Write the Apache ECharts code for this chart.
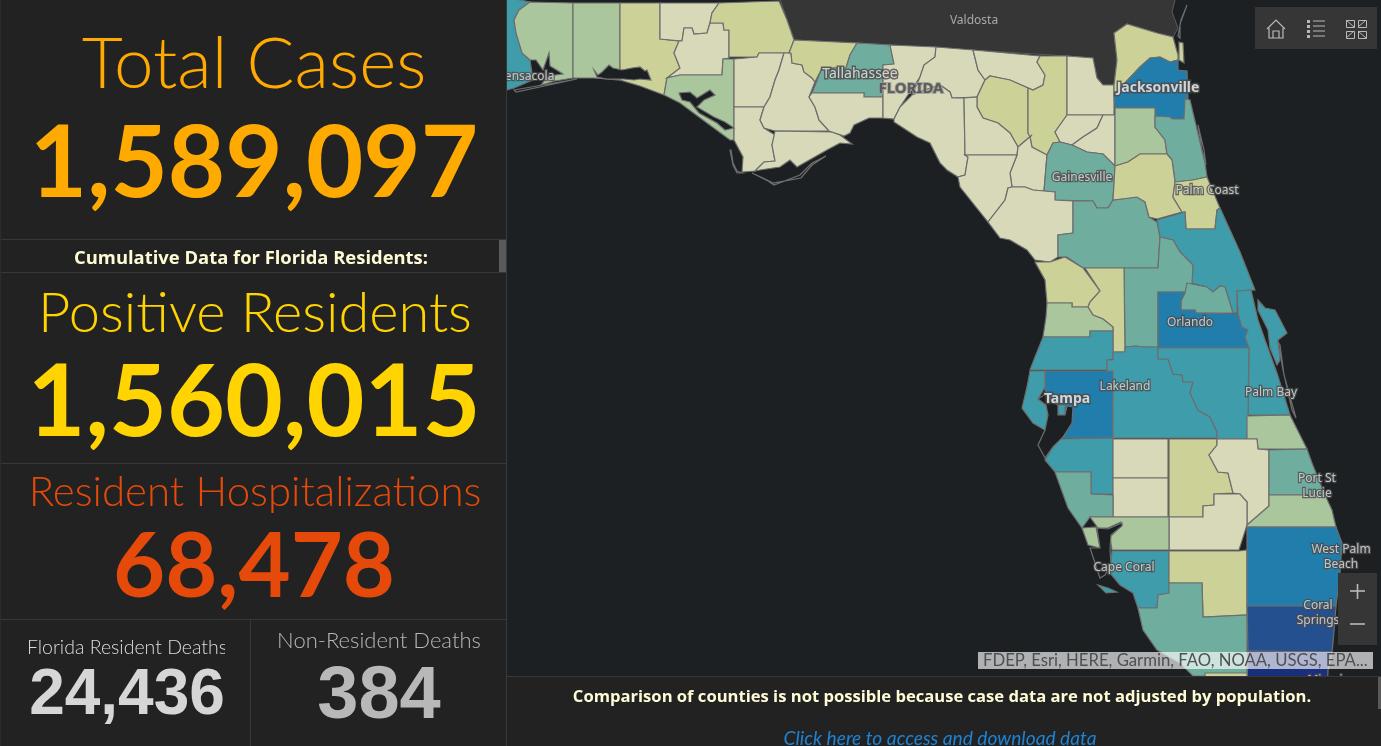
<!DOCTYPE html>
<html><head><meta charset="utf-8">
<style>html,body{margin:0;padding:0;background:#1c2023;overflow:hidden}#c{width:1381px;height:746px}</style>
<script src="https://cdn.jsdelivr.net/npm/echarts@6/dist/echarts.min.js"></script>
</head><body><div id="c"></div>
<script>
// ---------- headline numbers ----------
const kpiTotalLabel = 'Total Cases';
const kpiTotalValue = '1,589,097';
const kpiResidentsLabel = 'Positive Residents';
const kpiResidentsValue = '1,560,015';
const kpiHospLabel = 'Resident Hospitalizations';
const kpiHospValue = '68,478';
const kpiDeathsLabel = 'Florida Resident Deaths';
const kpiDeathsValue = '24,436';
const kpiNonResLabel = 'Non-Resident Deaths';
const kpiNonResValue = '384';
const cumulativeText = 'Cumulative Data for Florida Residents:';
const noteText = 'Comparison of counties is not possible because case data are not adjusted by population.';
const linkText = 'Click here to access and download data';
const attributionText = 'FDEP, Esri, HERE, Garmin, FAO, NOAA, USGS, EPA...';

// ---------- county case counts (estimated from the colour classes) ----------
const countyNames = ['Escambia','Santa Rosa','Okaloosa','Walton','Holmes','Washington','Jackson','Bay','Calhoun','Gulf','Liberty','Franklin','Gadsden','Leon','Wakulla','Jefferson','Madison','Taylor','Hamilton','Suwannee','Lafayette','Columbia','Baker','Union','Bradford','Gilchrist','Alachua','Dixie','Levy','Marion','Nassau','Duval','Clay','St. Johns','Putnam','Flagler','Volusia','Lake','Seminole','Orange','Brevard','Citrus','Sumter','Hernando','Pasco','Hillsborough','Pinellas','Polk','Osceola','Indian River','Manatee','Hardee','DeSoto','Highlands','Okeechobee','Glades','Sarasota','Charlotte','Lee','Hendry','Collier','St. Lucie','Martin','Palm Beach','Broward','Miami-Dade','Monroe'];
const countyCases = [29000,14000,15000,5400,1900,2000,4100,13500,1400,1500,900,1100,3900,22000,2400,1000,1600,1800,1200,4200,700,5600,2900,1300,2400,1400,20000,1400,3100,23000,6300,84000,13000,17000,6200,5000,32000,21000,27000,110000,36000,8300,6700,11000,33000,105000,61000,52000,34000,11000,31000,2400,3100,7000,3300,800,23000,11500,58000,3600,26000,19000,12500,118000,198000,402000,5100];
const classBreaks = [3500,10000,16000,28000,65000,150000,300000];
const classColors = ['#d8d9b9','#ccd297','#a9c69d','#6fae9f','#3f9cab','#217dab','#24508f','#1a2f7c'];

// ---------- map geometry (map units) ----------
const mapBounds = [[507,0],[1381,676]];
const georgiaOutline = [[[779,-4],[787,20],[794,40],[857,43],[890,45],[940,48],[1067,56],[1093,58],[1097,78],[1103,85],[1114,85],[1117,60],[1114,33],[1127,24],[1157,33],[1173,37],[1178,28],[1172,12],[1176,-4]]];
const countyShapes = {
'Escambia':[[[500,-4],[530,2],[519,10],[514,20],[516,33],[522,53],[530,60],[533,80],[514,88],[500,92]]],
'Santa Rosa':[[[530,2],[573,3],[573,78],[555,81],[541,85],[548,76],[563,74],[550,66],[549,53],[543,70],[536,60],[530,60],[522,53],[516,33],[514,20],[519,10]]],
'Okaloosa':[[[573,3],[620,3],[620,80],[594,78],[573,78]]],
'Walton':[[[620,3],[660,3],[660,39],[679,41],[674,53],[680,68],[667,78],[664,95],[640,86],[620,80]]],
'Holmes':[[[660,3],[719,3],[712,13],[710,23],[707,33],[694,34],[692,28],[684,28],[682,41],[660,39]]],
'Washington':[[[684,28],[692,28],[694,34],[707,33],[710,23],[723,23],[724,30],[729,30],[729,58],[723,59],[722,75],[680,75],[667,78],[680,68],[674,53],[679,41],[682,41]]],
'Jackson':[[[719,3],[779,1],[787,20],[794,40],[789,53],[759,53],[757,57],[729,57],[729,30],[724,30],[723,23],[710,23],[712,13]]],
'Bay':[[[723,59],[734,59],[734,140],[730,140],[707,123],[680,103],[664,95],[667,78],[680,75],[722,75]]],
'Calhoun':[[[734,59],[757,57],[759,53],[784,53],[779,70],[775,80],[770,97],[764,107],[734,107]]],
'Gulf':[[[734,107],[764,107],[760,120],[764,128],[775,135],[772,145],[775,161],[764,162],[755,171],[742,172],[743,157],[734,140]]],
'Liberty':[[[784,53],[791,53],[792,63],[802,65],[804,72],[812,78],[815,82],[809,97],[815,107],[819,120],[829,131],[775,131],[764,128],[760,120],[764,107],[770,97],[775,80],[779,70]]],
'Franklin':[[[775,131],[832,132],[840,135],[852,144],[840,143],[827,150],[797,167],[790,160],[780,167],[760,170],[755,171],[764,162],[775,161],[772,145]]],
'Gadsden':[[[794,40],[857,43],[850,55],[846,68],[822,68],[815,82],[812,78],[804,72],[802,65],[792,63],[791,53],[789,53]]],
'Leon':[[[857,43],[890,45],[894,64],[883,65],[883,97],[864,97],[864,93],[812,93],[822,68],[846,68],[850,55]]],
'Wakulla':[[[809,97],[812,93],[864,93],[864,97],[883,97],[883,118],[869,118],[854,125],[850,133],[844,136],[832,132],[829,131],[819,120],[815,107]]],
'Jefferson':[[[890,45],[936,47],[935,57],[924,65],[920,77],[900,107],[894,119],[883,118],[883,65],[894,64]]],
'Madison':[[[936,47],[973,50],[978,70],[985,80],[977,97],[952,98],[950,92],[940,85],[925,90],[912,95],[920,77],[924,65],[935,57]]],
'Taylor':[[[894,119],[900,107],[912,95],[925,90],[940,85],[950,92],[952,98],[964,98],[965,155],[968,157],[965,175],[958,177],[947,170],[940,163],[930,143],[917,137],[894,122]]],
'Hamilton':[[[973,50],[1040,56],[1037,62],[1045,75],[1043,85],[1033,90],[1028,88],[1010,80],[990,76],[985,80],[978,70]]],
'Suwannee':[[[990,76],[1010,80],[1028,88],[1028,133],[1032,135],[1018,147],[1010,133],[998,123],[983,118],[977,107],[977,97],[985,80]]],
'Lafayette':[[[964,98],[977,97],[977,107],[983,118],[998,123],[1010,133],[1018,147],[1017,155],[965,155]]],
'Columbia':[[[1040,56],[1067,56],[1067,115],[1055,132],[1060,142],[1053,143],[1047,155],[1032,147],[1030,137],[1028,133],[1028,88],[1033,90],[1043,85],[1045,75],[1037,62]]],
'Baker':[[[1067,56],[1093,58],[1097,78],[1103,85],[1114,85],[1114,115],[1067,115]]],
'Union':[[[1067,115],[1103,115],[1097,128],[1083,137],[1072,145],[1060,142],[1055,132]]],
'Bradford':[[[1103,115],[1115,115],[1115,166],[1103,154],[1087,152],[1072,145],[1083,137],[1097,128]]],
'Gilchrist':[[[1018,147],[1032,135],[1030,137],[1032,147],[1047,155],[1044,191],[1033,190],[1025,187],[1012,187],[1010,173],[1017,155]]],
'Alachua':[[[1053,143],[1060,142],[1072,145],[1087,152],[1103,154],[1115,166],[1113,200],[1108,208],[1097,208],[1093,201],[1055,200],[1055,192],[1044,191],[1047,155]]],
'Dixie':[[[965,155],[1017,155],[1010,173],[1012,187],[1008,188],[1005,200],[988,222],[960,187],[958,177],[965,175],[968,157]]],
'Levy':[[[1012,187],[1025,187],[1033,190],[1055,192],[1055,200],[1073,201],[1073,233],[1058,235],[1058,257],[1050,262],[1035,260],[1027,250],[1010,240],[1000,238],[988,222],[1005,200],[1008,188]]],
'Marion':[[[1073,201],[1093,201],[1097,208],[1108,208],[1113,200],[1137,197],[1145,202],[1149,217],[1157,222],[1160,237],[1158,268],[1083,268],[1067,257],[1058,257],[1058,235],[1073,233]]],
'Nassau':[[[1114,33],[1127,24],[1157,33],[1173,37],[1178,55],[1178,60],[1170,62],[1160,57],[1150,58],[1140,67],[1125,83],[1114,95],[1114,85],[1117,60]],[[1179,42],[1183,43],[1184,63],[1179,60]]],
'Duval':[[[1150,58],[1160,57],[1170,62],[1178,60],[1178,70],[1187,71],[1188,99],[1185,99],[1184,119],[1172,119],[1170,117],[1155,116],[1155,108],[1115,108],[1114,95],[1125,83],[1140,67]]],
'Clay':[[[1115,108],[1155,108],[1155,127],[1165,140],[1167,154],[1140,154],[1128,162],[1115,166]]],
'St. Johns':[[[1155,116],[1170,117],[1172,119],[1184,119],[1185,99],[1190,100],[1205,163],[1207,177],[1193,180],[1175,182],[1172,160],[1167,154],[1165,140],[1155,127]]],
'Putnam':[[[1115,166],[1128,162],[1140,154],[1167,154],[1172,160],[1175,182],[1173,197],[1182,212],[1157,219],[1149,217],[1145,202],[1137,197],[1113,200]]],
'Flagler':[[[1175,182],[1193,180],[1207,177],[1220,208],[1217,210],[1215,229],[1186,229],[1185,212],[1182,212],[1173,197]]],
'Volusia':[[[1157,220],[1185,212],[1186,229],[1215,229],[1217,210],[1220,208],[1230,230],[1240,252],[1255,290],[1237,291],[1237,313],[1233,313],[1225,287],[1220,286],[1213,292],[1207,287],[1192,283],[1193,265],[1180,252],[1173,240],[1160,237]]],
'Lake':[[[1160,237],[1173,240],[1180,252],[1193,265],[1192,283],[1185,292],[1158,292],[1158,347],[1143,347],[1136,346],[1125,347],[1124,268],[1158,268]]],
'Seminole':[[[1187,283],[1207,287],[1213,292],[1220,286],[1225,287],[1233,313],[1196,313],[1195,310],[1181,310],[1181,301],[1185,293]]],
'Orange':[[[1158,292],[1185,292],[1181,301],[1181,310],[1195,310],[1196,313],[1238,314],[1242,327],[1248,330],[1245,337],[1249,348],[1158,348]]],
'Brevard':[[[1237,291],[1251,290],[1258,320],[1265,340],[1277,373],[1290,415],[1248,415],[1249,348],[1245,337],[1248,330],[1242,327],[1238,314]],[[1258,300],[1265,308],[1275,310],[1287,333],[1278,340],[1280,360],[1277,365],[1270,348],[1268,330],[1262,318],[1258,310]]],
'Citrus':[[[1035,262],[1050,262],[1065,257],[1083,268],[1100,291],[1090,302],[1088,307],[1072,307],[1072,303],[1047,303],[1045,280]]],
'Sumter':[[[1085,268],[1124,268],[1125,352],[1113,352],[1113,327],[1103,319],[1093,315],[1088,307],[1090,302],[1100,291]]],
'Hernando':[[[1047,303],[1072,303],[1072,307],[1088,307],[1093,315],[1103,319],[1113,327],[1113,331],[1090,331],[1090,337],[1043,337],[1046,317]]],
'Pasco':[[[1043,337],[1090,337],[1090,331],[1113,331],[1113,359],[1107,360],[1107,370],[1030,370],[1035,357]]],
'Hillsborough':[[[1045,371],[1113,371],[1113,438],[1058,438],[1060,430],[1048,397],[1045,390]]],
'Pinellas':[[[1030,371],[1045,371],[1045,387],[1038,399],[1046,405],[1048,415],[1045,430],[1033,423],[1022,408],[1027,387]],[[1058,405],[1065,405],[1065,415],[1058,415]]],
'Polk':[[[1113,352],[1125,352],[1125,347],[1136,346],[1143,347],[1158,347],[1158,359],[1168,359],[1173,374],[1182,375],[1183,382],[1193,382],[1190,393],[1198,410],[1210,417],[1217,432],[1217,438],[1113,438],[1113,371],[1107,371],[1107,360],[1113,360]]],
'Osceola':[[[1158,348],[1249,348],[1248,415],[1247,439],[1217,439],[1217,432],[1210,417],[1198,410],[1190,393],[1193,382],[1183,382],[1182,375],[1173,374],[1168,359],[1158,359]]],
'Indian River':[[[1247,416],[1290,415],[1307,449],[1268,449],[1258,449],[1257,439],[1247,439]]],
'Manatee':[[[1058,439],[1113,438],[1113,494],[1091,494],[1091,472],[1055,472],[1045,460]]],
'Hardee':[[[1113,439],[1168,439],[1168,478],[1113,478]]],
'DeSoto':[[[1113,478],[1168,478],[1168,517],[1113,517]]],
'Highlands':[[[1169,439],[1217,439],[1217,445],[1209,455],[1218,472],[1228,473],[1233,493],[1214,494],[1214,505],[1203,506],[1203,517],[1169,517]]],
'Okeechobee':[[[1217,439],[1257,439],[1258,449],[1269,450],[1269,506],[1247,525],[1247,502],[1240,494],[1233,493],[1228,473],[1218,472],[1209,455],[1217,445]]],
'Glades':[[[1169,517],[1203,517],[1203,506],[1214,505],[1214,494],[1240,494],[1247,502],[1247,525],[1239,550],[1169,550]]],
'Sarasota':[[[1055,472],[1091,472],[1091,494],[1113,495],[1113,517],[1090,517],[1082,528],[1068,508]]],
'Charlotte':[[[1090,517],[1169,517],[1169,550],[1112,550],[1110,537],[1122,525],[1121,522],[1108,528],[1098,528]],[[1082,528],[1096,527],[1100,548],[1088,545]]],
'Lee':[[[1112,551],[1169,551],[1169,593],[1158,595],[1157,608],[1138,608],[1133,593],[1120,585],[1110,573]],[[1098,585],[1108,588],[1117,592],[1106,593]]],
'Hendry':[[[1169,551],[1239,551],[1247,550],[1247,615],[1203,617],[1202,583],[1169,583]]],
'Collier':[[[1169,583],[1202,583],[1203,617],[1247,615],[1247,676],[1193,676],[1180,663],[1157,650],[1143,630],[1138,608],[1157,608],[1158,595],[1169,593]]],
'St. Lucie':[[[1269,450],[1307,449],[1312,463],[1325,495],[1269,495]]],
'Martin':[[[1269,495],[1325,495],[1332,510],[1336,527],[1247,527],[1247,525],[1269,506]]],
'Palm Beach':[[[1247,527],[1336,527],[1342,543],[1340,573],[1336,606],[1247,606]]],
'Broward':[[[1247,606],[1336,606],[1333,643],[1332,652],[1248,651]]],
'Miami-Dade':[[[1248,651],[1332,652],[1328,670],[1327,690],[1247,690]]],
'Monroe':[[[1205,673],[1247,673],[1247,690],[1205,690]]]
};
const waterShapes = {
'Choctawhatchee Bay':[[[594,70],[598,75],[602,72],[609,65],[613,68],[622,70],[632,68],[640,67],[645,71],[647,70],[651,80],[640,79],[634,80],[624,79],[607,79],[597,77]]],
'St. Andrew Bay':[[[679,93],[690,92],[697,98],[710,90],[715,95],[704,100],[697,107],[714,117],[725,122],[734,128],[725,130],[717,123],[699,113],[690,102],[682,100]]],
'Perdido Sound':[[[514,90],[577,79],[577,80],[516,92]]],
'Cape San Blas':[[[730,150],[733,165],[737,173],[742,173],[737,171],[733,163],[731,150]]],
'St. George Island':[[[752,173],[768,181],[774,185],[800,175],[812,163],[826,156],[812,165],[801,178],[773,183],[763,178]]],
'Amelia Sound':[[[1178,36],[1181,20],[1187,5],[1180,24],[1180,38]]],
'Tampa Bay':[[[1038,399],[1047,393],[1052,402],[1058,405],[1058,415],[1065,415],[1067,406],[1073,407],[1072,423],[1063,437],[1053,447],[1045,458],[1038,445],[1045,430],[1048,415],[1046,405]]],
'Charlotte Harbor':[[[1097,528],[1108,529],[1122,523],[1122,526],[1111,535],[1110,550],[1111,565],[1105,575],[1100,578],[1094,560],[1090,548],[1100,548],[1098,535]]],
'Indian River Lagoon':[[[1278,342],[1283,370],[1292,410],[1296,418],[1284,375],[1280,345]]],
'Ponce Inlet':[[[1198,125],[1204,150],[1206,165],[1202,150]]]
};

// ---------- city labels ----------
const cityNames = ['Valdosta','Pensacola','Tallahassee','FLORIDA','Jacksonville','Gainesville','Palm Coast','Orlando','Lakeland','Tampa','Palm Bay','Port St\nLucie','West Palm\nBeach','Cape Coral','Coral\nSprings','Miami'];
const cityPoints = [[974,21],[526,77],[860,74],[911,89],[1158,88],[1082,178],[1207,191],[1190,323],[1125,387],[1067,399],[1271,393],[1317,486],[1341,557],[1124,568],[1318,613],[1325,681]];
const majorCities = ['Jacksonville','Tampa','Tallahassee'];

// ---------- build ----------
const features = [];
function addFeature(name, rings){
  features.push({type:'Feature',properties:{name:name},geometry:{type:'MultiPolygon',coordinates:rings.map(r=>[r])}});
}
addFeature('Georgia', georgiaOutline);
countyNames.forEach(n=>addFeature(n, countyShapes[n]));
Object.keys(waterShapes).forEach(n=>addFeature(n, waterShapes[n]));
echarts.registerMap('florida',{type:'FeatureCollection',features:features});

const pieces = classColors.map((c,i)=>{
  const p={color:c};
  if(i>0)p.min=classBreaks[i-1];
  if(i<classBreaks.length)p.max=classBreaks[i];
  return p;
});

const PANEL='#222222', LINE='#383838', WATER='#1c2023', UI='#363636', UIINK='#b9b9b9';
const LIGHT='Lato', SEMI='"Open Sans"', Z=100;
function rect(x,y,w,h,fill,extra){return Object.assign({type:'rect',z:Z,silent:true,shape:{x:x,y:y,width:w,height:h},style:{fill:fill}},extra||{});}
function txt(t,x,y,font,fill,extra){return {type:'text',z:Z+2,silent:true,style:Object.assign({text:t,x:x,y:y,font:font,fill:fill,textAlign:'center',textVerticalAlign:'middle'},extra||{})};}
function stroke(pts,w){return {type:'polyline',z:Z+2,silent:true,shape:{points:pts},style:{fill:'none',stroke:UIINK,lineWidth:w||1}};}
function box(x,y,w,h){return {type:'rect',z:Z+2,silent:true,shape:{x:x+.5,y:y+.5,width:w,height:h},style:{fill:'none',stroke:UIINK,lineWidth:1}};}

const graphics = [
  // left panel and dividers
  rect(0,0,507,746,PANEL),
  rect(0,239,506,1,LINE),rect(0,272,506,1,LINE),rect(0,463,506,1,LINE),rect(0,619,506,1,LINE),
  rect(250,619,1,127,LINE),rect(506,0,1,746,LINE),rect(0,0,1,746,'#2c2c2c'),
  rect(499,240,7,32,'#5a5a5a'),
  // bottom panel
  rect(507,676,874,70,PANEL),rect(507,676,874,1,LINE),rect(1378,677,3,32,'#5a5a5a'),
  // kpi text
  txt(kpiTotalLabel,254,65,'300 71px '+LIGHT,'#ffaa00'),
  txt(kpiTotalValue,254,165,'bold 99px '+LIGHT,'#ffaa00'),
  txt(cumulativeText,251,259,'700 18.4px '+SEMI,'#fffbd5'),
  txt(kpiResidentsLabel,255,314,'300 56px '+LIGHT,'#ffd400'),
  txt(kpiResidentsValue,254,404,'bold 100px '+LIGHT,'#ffd400'),
  txt(kpiHospLabel,255,492,'300 42px '+LIGHT,'#e64a0a'),
  txt(kpiHospValue,254,568,'bold 90px '+LIGHT,'#e64a0a'),
  txt(kpiDeathsLabel,127,648,'300 19.5px '+LIGHT,'#dcdcdc'),
  rect(225,630,25,36,PANEL,{z:Z+3}),
  txt(kpiDeathsValue,127,696,'bold 64px "Liberation Sans"','#d6d6d6'),
  txt(kpiNonResLabel,379,641,'300 22px '+LIGHT,'#b8b8b8'),
  txt(kpiNonResValue,379,698,'bold 74px "Liberation Sans"','#b8b8b8'),
  txt(noteText,942,697,'700 16.6px '+SEMI,'#fffbd5'),
  txt(linkText,940,739,'italic 400 19.2px '+LIGHT,'#1f83d4'),
  // attribution
  rect(978,652,395,17,'rgba(255,255,255,0.65)',{z:Z+1}),
  txt(attributionText,983,661,'400 16.7px '+LIGHT,'#505050',{textAlign:'left'}),
  // widgets
  rect(1255,7,122,42,UI,{z:Z+1}),
  stroke([[1267,29],[1276,20],[1285,29]],1.2),
  stroke([[1269,28],[1269,38],[1283,38],[1283,28]],1.2),
  stroke([[1273,38],[1273,31],[1279,31],[1279,38]],1.2),
  rect(1307,20,3,3,UIINK,{z:Z+2}),rect(1307,25,3,3,UIINK,{z:Z+2}),rect(1307,30,3,3,UIINK,{z:Z+2}),rect(1307,35,3,3,UIINK,{z:Z+2}),
  stroke([[1313,21],[1325,21]]),stroke([[1313,26],[1325,26]]),stroke([[1313,31],[1325,31]]),stroke([[1313,36],[1325,36]]),
  box(1346,20,8,7),box(1358,20,8,7),box(1346,31,8,7),box(1358,31,8,7),
  stroke([[1358,27],[1366,20]]),stroke([[1346,38],[1354,31]]),stroke([[1346,20],[1354,27]]),stroke([[1358,31],[1366,38]]),
  rect(1338,573,39,72,UI,{z:Z+1}),
  stroke([[1350,591],[1365,591]],1.6),stroke([[1357.5,584],[1357.5,599]],1.6),
  stroke([[1350,624],[1365,624]],1.6)
];

const cityData = cityNames.map((n,i)=>{
  const major = majorCities.indexOf(n)>=0;
  const d = {name:n,value:cityPoints[i]};
  if(n==='Valdosta') d.label={color:'#c4c4c4',textBorderWidth:0,fontSize:12};
  else if(n==='FLORIDA') d.label={color:'#4a4a4a',textBorderColor:'#9a9a9a',textBorderWidth:2,fontSize:15,fontWeight:'bold'};
  else if(n==='Tallahassee') d.label={color:'#f0f0f0',fontSize:14,textBorderColor:'#4a4a4a',textBorderWidth:3};
  else if(major) d.label={color:'#f5f5f5',fontSize:14,fontWeight:'bold',textBorderColor:'#4a4a4a',textBorderWidth:3};
  return d;
});

const chart = echarts.init(document.getElementById('c'),null,{renderer:'canvas'});
chart.setOption({
  animation:false,
  backgroundColor:WATER,
  tooltip:{show:false},
  geo:{
    map:'florida',roam:false,silent:true,
    left:mapBounds[0][0],top:mapBounds[0][1],
    width:mapBounds[1][0]-mapBounds[0][0],height:mapBounds[1][1]-mapBounds[0][1],
    boundingCoords:mapBounds,
    projection:{project:p=>[p[0],p[1]],unproject:p=>[p[0],p[1]]},
    label:{show:false},
    itemStyle:{areaColor:WATER,borderColor:'#6e6e6e',borderWidth:1.2},
    emphasis:{disabled:true},
    regions:[{name:'Georgia',itemStyle:{areaColor:'#363636',borderColor:'#5a5a5a',borderWidth:1}}]
  },
  visualMap:{type:'piecewise',show:false,seriesIndex:0,pieces:pieces},
  series:[
    {type:'map',geoIndex:0,silent:true,data:countyNames.map((n,i)=>({name:n,value:countyCases[i]}))},
    {type:'scatter',coordinateSystem:'geo',silent:true,symbolSize:0,data:cityData,
      label:{show:true,position:'inside',formatter:'{b}',fontFamily:'"Noto Sans"',fontSize:12,lineHeight:15,color:'#e4e4e4',textBorderColor:'#4a4a4a',textBorderWidth:2.5},
      labelLayout:{hideOverlap:false}}
  ],
  graphic:graphics
});
</script></body></html>
